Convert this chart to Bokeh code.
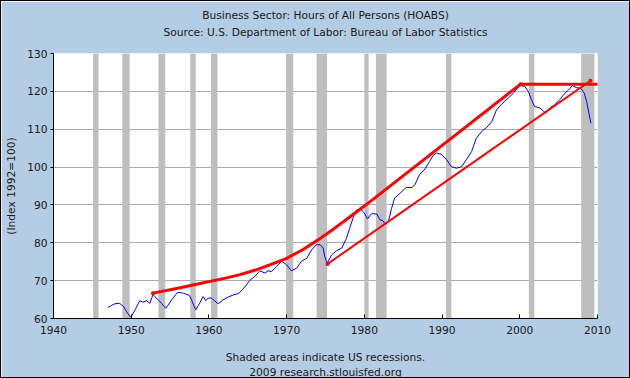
from bokeh.plotting import figure
from bokeh.models import Title, Range1d, FixedTicker
from bokeh.embed import file_html
from bokeh.resources import INLINE

# ---- data -------------------------------------------------------------
years = [1947.0, 1947.5, 1947.9, 1948.5, 1949.0, 1949.4, 1949.95, 1950.5, 1951.1, 1951.5,
         1952.0, 1952.4, 1952.8, 1953.25, 1953.9, 1954.45, 1955.2, 1955.95, 1956.7, 1957.5,
         1957.85, 1958.3, 1958.8, 1959.25, 1959.6, 1959.9, 1960.3, 1961.2, 1961.8, 1962.4,
         1963.1, 1963.8, 1964.3, 1964.8, 1965.3, 1965.9, 1966.55, 1967.2, 1967.6, 1968.05,
         1968.7, 1969.35, 1970.0, 1970.6, 1971.3, 1971.9, 1972.6, 1973.2, 1973.85, 1974.3,
         1974.7, 1974.9, 1975.2, 1975.8, 1976.4, 1977.1, 1977.7, 1978.1, 1978.6, 1979.0,
         1979.5, 1980.0, 1980.4, 1980.9, 1981.6, 1982.0, 1982.4, 1982.7, 1983.1, 1983.5,
         1983.9, 1984.6, 1985.4, 1986.1, 1986.5, 1987.1, 1987.8, 1988.4, 1988.85, 1989.3,
         1989.9, 1990.6, 1991.2, 1991.85, 1992.5, 1993.1, 1993.8, 1994.4, 1995.1, 1995.7,
         1996.4, 1997.0, 1997.65, 1998.5, 1999.15, 1999.7, 2000.1, 2000.65, 2001.1, 2001.5,
         2001.9, 2002.6, 2003.0, 2003.3, 2003.85, 2004.5, 2005.15, 2005.8, 2006.3, 2006.75,
         2007.3, 2007.85, 2008.3, 2008.6, 2008.9, 2009.15]
hours = [62.9, 63.5, 63.9, 64.0, 63.2, 61.8, 60.3, 62.3, 64.7, 64.3,
         64.7, 64.0, 66.3, 65.4, 64.0, 62.7, 64.9, 66.9, 66.7, 66.1,
         64.5, 62.3, 64.0, 65.8, 64.7, 65.4, 65.4, 63.9, 64.9, 65.6,
         66.2, 66.6, 67.6, 68.8, 70.2, 71.1, 72.6, 72.0, 72.6, 72.4,
         73.7, 75.1, 74.2, 72.6, 73.3, 75.1, 75.9, 78.1, 79.5, 79.5,
         78.6, 76.4, 74.6, 76.8, 77.9, 78.6, 81.2, 83.8, 86.9, 88.7,
         88.9, 87.9, 86.3, 87.7, 87.6, 86.1, 85.8, 84.9, 85.6, 89.1,
         91.8, 93.1, 94.6, 94.6, 95.3, 98.0, 99.5, 101.5, 103.1, 103.7,
         103.4, 101.9, 100.1, 99.7, 100.1, 101.9, 104.1, 107.6, 109.4, 110.4,
         112.0, 115.1, 116.6, 118.2, 119.5, 120.8, 121.5, 121.3, 120.0, 117.8,
         116.0, 115.6, 114.9, 114.2, 115.6, 116.5, 117.8, 119.5, 120.4, 121.5,
         121.0, 120.8, 119.5, 117.3, 114.2, 111.6]

rec_start = [1945.1, 1948.85, 1953.5, 1957.6, 1960.27, 1969.92, 1973.85, 1980.0, 1981.5,
             1990.5, 2001.17, 2007.9]
rec_end = [1945.8, 1949.8, 1954.38, 1958.3, 1961.1, 1970.85, 1975.2, 1980.55, 1982.87,
           1991.2, 2001.87, 2009.6]

upper_x = [1952.8, 1956.0, 1959.0, 1962.0, 1964.0, 1966.0, 1968.0, 1970.0, 1972.0, 1974.0,
           1976.0, 1978.0, 1980.0, 2000.1]
upper_y = [66.7, 68.0, 69.3, 70.6, 71.6, 72.8, 74.3, 75.9, 78.1, 80.7,
           83.6, 86.6, 89.7, 121.9]
flat_x = [2000.1, 2010.3]
flat_y = [121.9, 121.9]
lower_x = [1975.25, 2009.1]
lower_y = [74.4, 122.8]
dot_x = [1952.8, 2000.1, 1975.25, 2009.1]
dot_y = [66.7, 121.9, 74.4, 122.8]

x_ticks = [1940, 1950, 1960, 1970, 1980, 1990, 2000, 2010]
y_ticks = [60, 70, 80, 90, 100, 110, 120, 130]

title1 = "Business Sector: Hours of All Persons (HOABS)"
title2 = "Source: U.S. Department of Labor: Bureau of Labor Statistics"
note1 = "Shaded areas indicate US recessions."
note2 = "2009 research.stlouisfed.org"
y_label = "(Index 1992=100)"

# ---- layout / style ---------------------------------------------------
W, H = 630, 378
FL, FR, FT, FB = 52, 596, 52, 317          # frame edges in pixels
FONT = "DejaVu Sans"
FS = "8pt"
TXT = "#1a1a1a"
BG = "#B4CCE4"

p = figure(width=W, height=H, output_backend="svg", toolbar_location=None,
           x_range=Range1d(x_ticks[0], x_ticks[-1]), y_range=Range1d(y_ticks[0], y_ticks[-1]),
           min_border_left=FL, min_border_right=W - FR,
           min_border_top=FT, min_border_bottom=H - FB)
p.background_fill_color = "white"
p.border_fill_color = BG
p.outline_line_color = None

p.quad(left=rec_start, right=rec_end, bottom=y_ticks[0], top=y_ticks[-1],
       fill_color="#BEBEBE", line_color=None)
p.line(years, hours, line_color="#0000FF", line_width=1)
p.line(upper_x, upper_y, line_color="#FF0000", line_width=3)
p.line(flat_x, flat_y, line_color="#FF0000", line_width=3)
p.line(lower_x, lower_y, line_color="#FF0000", line_width=2)
p.scatter(dot_x, dot_y, size=4, fill_color="#FF0000", line_color=None)

p.xgrid.visible = False
p.ygrid.grid_line_color = "#AAAAAA"
p.ygrid.ticker = FixedTicker(ticks=y_ticks)

p.xaxis.ticker = FixedTicker(ticks=x_ticks)
p.yaxis.ticker = FixedTicker(ticks=y_ticks)
for ax in (p.xaxis[0], p.yaxis[0]):
    ax.axis_line_color = "black"
    ax.major_tick_line_color = "black"
    ax.minor_tick_line_color = None
    ax.major_label_text_font = FONT
    ax.major_label_text_font_size = FS
    ax.major_label_text_color = TXT
p.xaxis.major_tick_in = 4
p.xaxis.major_tick_out = 0
p.xaxis.major_label_standoff = 7
p.yaxis.major_tick_in = 0
p.yaxis.major_tick_out = 3
p.yaxis.major_label_standoff = 3
p.yaxis.axis_label = y_label
p.yaxis.axis_label_text_font = FONT
p.yaxis.axis_label_text_font_size = FS
p.yaxis.axis_label_text_font_style = "normal"
p.yaxis.axis_label_text_color = TXT
p.yaxis.axis_label_standoff = 6

def mk(text, standoff, size=FS):
    return Title(text=text, align="center", offset=-7, text_font=FONT,
                 text_font_size=size, text_font_style="normal", text_color=TXT,
                 standoff=standoff)

# above: panels stack outward from the frame
p.add_layout(mk("\u00a0", 0), "above")        # spacer
p.add_layout(mk(title2, 0), "above")
p.add_layout(mk(title1, 4), "above")
# below: panels stack outward from the frame (after the axis)
p.add_layout(mk("\u00a0", 0, "6.5pt"), "below")  # spacer
p.add_layout(mk(note1, 0), "below")
p.add_layout(mk(note2, 0), "below")

p.styles = {"border": "1px solid black", "box-sizing": "border-box"}

open("out.html", "w").write(file_html(p, INLINE))
